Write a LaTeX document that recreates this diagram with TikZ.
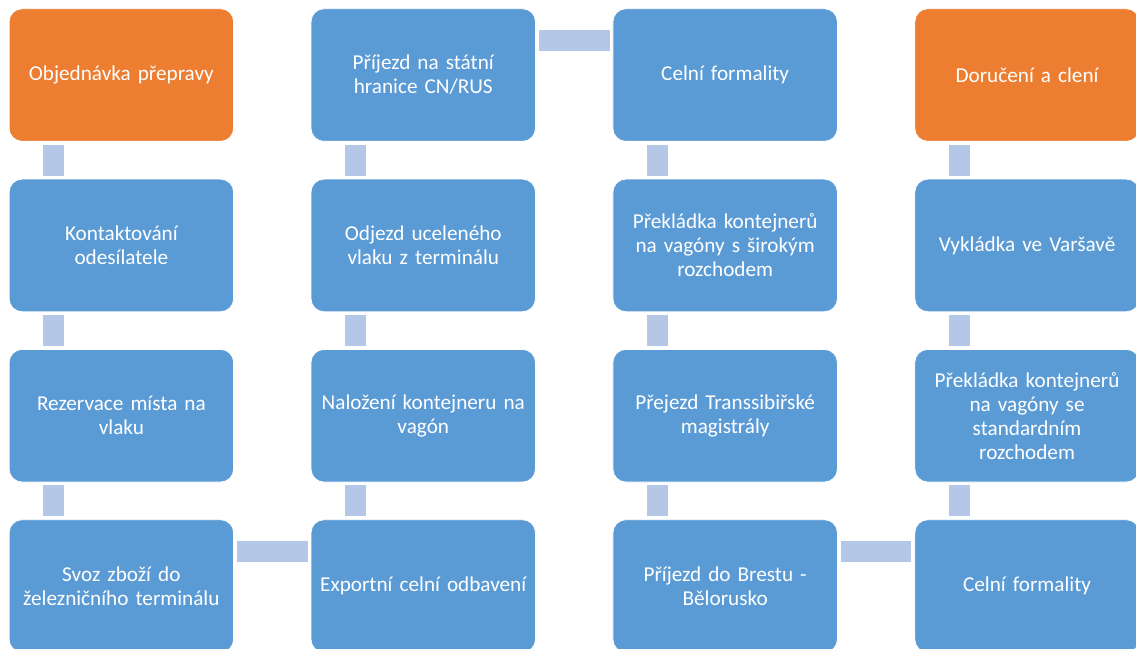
\documentclass[tikz,border=0pt]{standalone}
\usepackage{fontspec}
\setmainfont{Carlito}
\usetikzlibrary{calc}
\definecolor{boxblue}{HTML}{5B9BD5}
\definecolor{boxorange}{HTML}{ED7D31}
\definecolor{connblue}{HTML}{B4C7E7}
\tikzset{
  stepbox/.style={draw=white, line width=0.6pt, fill=boxblue, rounded corners=9.75pt,
    minimum width=168.4pt, minimum height=99.5pt, anchor=north west, inner sep=0pt,
    text width=164pt, align=center, text=white,
    font=\fontsize{15.9pt}{18pt}\selectfont},
  endbox/.style={stepbox, fill=boxorange},
  conn/.style={fill=connblue}
}
\begin{document}
\begin{tikzpicture}[x=0.75pt, y=-0.75pt]
\useasboundingbox (0,0) rectangle (1136,649);
\clip (0,0) rectangle (1136,649);
\fill[white] (0,0) rectangle (1136,649);
% column 1
\node[endbox]  (a1) at (8.7,8.3)   {Objednávka přepravy};
\node[stepbox] (a2) at (8.7,178.7) {Kontaktování\\odesílatele};
\node[stepbox] (a3) at (8.7,349)   {Rezervace místa na\\vlaku};
\node[stepbox] (a4) at (8.7,519.3) {Svoz zboží do\\železničního terminálu};
% column 2
\node[stepbox] (b1) at (310.6,8.3)   {Příjezd na státní\\hranice CN/RUS};
\node[stepbox] (b2) at (310.6,178.7) {Odjezd uceleného\\vlaku z terminálu};
\node[stepbox] (b3) at (310.6,349)   {Naložení kontejneru na\\vagón};
\node[stepbox] (b4) at (310.6,519.3) {Exportní celní odbavení};
% column 3
\node[stepbox] (c1) at (612.5,8.3)   {Celní formality};
\node[stepbox] (c2) at (612.5,178.7) {Překládka kontejnerů\\na vagóny s širokým\\rozchodem};
\node[stepbox] (c3) at (612.5,349)   {Přejezd Transsibiřské\\magistrály};
\node[stepbox] (c4) at (612.5,519.3) {Příjezd do Brestu -\\Bělorusko};
% column 4
\node[endbox]  (d1) at (914.4,8.3)   {Doručení a clení};
\node[stepbox] (d2) at (914.4,178.7) {Vykládka ve Varšavě};
\node[stepbox] (d3) at (914.4,349)   {Překládka kontejnerů\\na vagóny se\\standardním\\rozchodem};
\node[stepbox] (d4) at (914.4,519.3) {Celní formality};
% vertical connectors (upper/lower)
\foreach \u/\v in {a1/a2,a2/a3,a3/a4,b1/b2,b2/b3,b3/b4,c1/c2,c2/c3,c3/c4,d1/d2,d2/d3,d3/d4}{
  \fill[conn] ($(\u.south west)+(34.3,3)$) rectangle ($(\v.north west)+(55.3,-3)$);
}
% horizontal connectors (left/right)
\foreach \u/\v in {a4/b4,b1/c1,c4/d4}{
  \fill[conn] ($(\u.north east)+(3,21.7)$) rectangle ($(\v.north west)+(-3,42.7)$);
}
\end{tikzpicture}
\end{document}
